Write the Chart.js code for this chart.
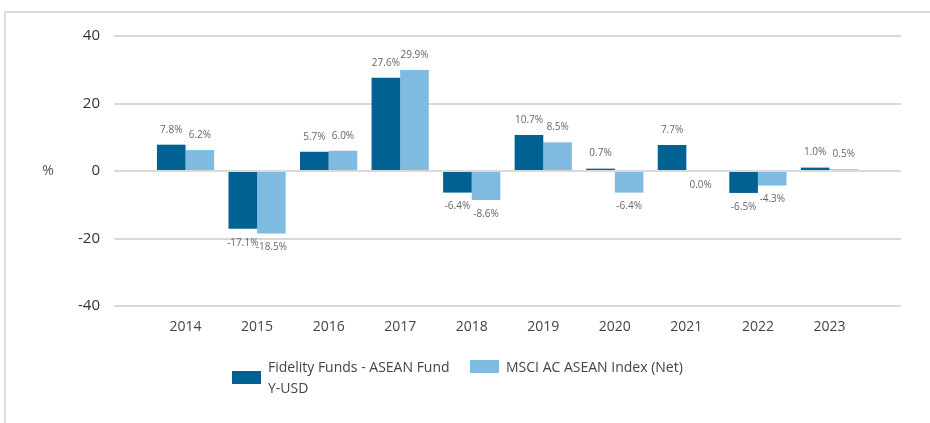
<!DOCTYPE html>
<html>
<head>
<meta charset="utf-8">
<script src="https://cdn.jsdelivr.net/npm/chart.js@4"></script>
<style>
  html, body { margin:0; padding:0; background:#fff; }
  body { width:930px; height:423px; position:relative; overflow:hidden; font-family:"Open Sans", sans-serif; }
  .frame { position:absolute; left:4px; top:11px; width:1000px; height:1000px; border-left:2px solid #dcdcdc; border-top:2px solid #dcdcdc; }
  #wrap { position:absolute; left:0; top:0; width:930px; height:423px; }
  #legend { position:absolute; left:232px; top:356px; display:flex; align-items:flex-start; font-size:14px; color:#444; line-height:21px; }
  .item { display:flex; align-items:center; margin-right:12px; }
  .box { width:29px; height:13px; margin-right:7px; flex:none; }
  .txt { max-width:190px; }
</style>
</head>
<body>
<div class="frame"></div>
<div id="wrap"><canvas id="perfChart"></canvas></div>
<div id="legend"></div>
<script>
const years = ['2014','2015','2016','2017','2018','2019','2020','2021','2022','2023'];
const fundReturns = [7.8, -17.1, 5.7, 27.6, -6.4, 10.7, 0.7, 7.7, -6.5, 1.0];
const indexReturns = [6.2, -18.5, 6.0, 29.9, -8.6, 8.5, -6.4, 0.0, -4.3, 0.5];
const seriesNames = ['Fidelity Funds - ASEAN Fund Y-USD', 'MSCI AC ASEAN Index (Net)'];
const seriesColors = ['#006192', '#7fbbe1'];
const yTicks = [-40, -20, 0, 20, 40];

// bar value labels: above positive bars, below the rest
const valueLabels = {
  id:'valueLabels',
  afterDatasetsDraw(chart) {
    const ctx = chart.ctx;
    ctx.save();
    ctx.font = '10px "Open Sans", sans-serif';
    ctx.fillStyle = '#666';
    ctx.textAlign = 'center';
    ctx.textBaseline = 'middle';
    chart.data.datasets.forEach((ds, di) => {
      chart.getDatasetMeta(di).data.forEach((bar, i) => {
        const v = ds.data[i].y;
        const y = v > 0 ? bar.y - 15 : bar.y + 14;
        ctx.fillText(v.toFixed(1) + '%', bar.x, y);
      });
    });
    ctx.restore();
  }
};

// "%" unit label left of the y axis
const unitLabel = {
  id:'unitLabel',
  afterDraw(chart) {
    const ctx = chart.ctx, a = chart.chartArea;
    ctx.save();
    ctx.font = '14px "Open Sans", sans-serif';
    ctx.fillStyle = '#555';
    ctx.textAlign = 'center';
    ctx.textBaseline = 'middle';
    ctx.fillText('%', 48, (a.top + a.bottom) / 2);
    ctx.restore();
  }
};

new Chart(document.getElementById('perfChart').getContext('2d'), {
  type:'bar',
  data:{
    datasets:[
      { label:seriesNames[0], data:fundReturns.map((v, i) => ({ x:i, y:v })), backgroundColor:seriesColors[0] },
      { label:seriesNames[1], data:indexReturns.map((v, i) => ({ x:i, y:v })), backgroundColor:seriesColors[1] }
    ]
  },
  options:{
    responsive:true,
    maintainAspectRatio:false,
    animation:false,
    categoryPercentage:0.8,
    barPercentage:1.0,
    layout:{ padding:{ top:36, right:29, left:0, bottom:0 } },
    plugins:{ legend:{ display:false }, tooltip:{ enabled:false } },
    scales:{
      x:{
        type:'linear', min:-1, max:10, offset:false,
        grid:{ display:false }, border:{ display:false },
        ticks:{ stepSize:1, autoSkip:false, padding:5, color:'#444', font:{ family:'"Open Sans", sans-serif', size:14 },
          callback:v => years[v] !== undefined ? years[v] : '' },
        afterFit:s => { s.height = 117; }
      },
      y:{
        min:-40, max:40,
        afterBuildTicks:s => { s.ticks = yTicks.map(v => ({ value:v })); },
        grid:{ color:'#d9d9d9', lineWidth:2, drawTicks:false },
        border:{ display:false },
        ticks:{ padding:14, color:'#333', font:{ family:'"Open Sans", sans-serif', size:15 } },
        afterFit:s => { s.width = 114; }
      }
    }
  },
  plugins:[valueLabels, unitLabel]
});

document.getElementById('legend').innerHTML = seriesNames.map((n, i) =>
  `<div class="item"><span class="box" style="background:${seriesColors[i]}"></span><span class="txt">${n}</span></div>`).join('');
</script>
</body>
</html>
